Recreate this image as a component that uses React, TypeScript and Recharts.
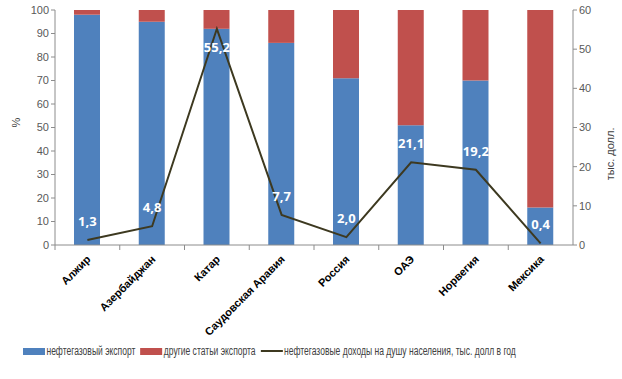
import React from 'react'
import {
  ComposedChart,
  Bar,
  Line,
  XAxis,
  YAxis,
  Legend,
  LabelList,
} from 'recharts'

const countries = [
  'Алжир', 'Азербайджан', 'Катар', 'Саудовская Аравия',
  'Россия', 'ОАЭ', 'Норвегия', 'Мексика',
]
const oilGasExport = [98, 95, 92, 86, 71, 51, 70, 16]
const otherExport = [2, 5, 8, 14, 29, 49, 30, 84]
const incomePerCapita = [1.3, 4.8, 55.2, 7.7, 2.0, 21.1, 19.2, 0.4]
const leftTicks = [0, 10, 20, 30, 40, 50, 60, 70, 80, 90, 100]
const rightTicks = [0, 10, 20, 30, 40, 50, 60]

const BLUE = '#4F81BD'
const RED = '#C0504D'
const OLIVE = '#3D3920'
const AXIS = '#8C8C8C'
const FONT = "'Liberation Sans', Arial, sans-serif"

const data = countries.map((name, i) => ({
  name,
  oil: oilGasExport[i],
  other: otherExport[i],
  income: incomePerCapita[i],
}))

const W = 622
const H = 379
const LEFT_W = 55
const RIGHT_W = 49
const band = (W - LEFT_W - RIGHT_W) / countries.length

// category label, plus a small tick at the left edge of the band
const CategoryTick = (props: any) => {
  const { x, y, payload } = props
  const tx = x + 4
  const ty = y + 7
  return (
    <g>
      <line x1={x - band / 2} y1={y - 8} x2={x - band / 2} y2={y - 3} stroke={AXIS} />
      <text
        x={tx}
        y={ty}
        transform={`rotate(-45, ${tx}, ${ty})`}
        textAnchor="end"
        fontSize={11}
        fontWeight="bold"
        fill="#000"
        fontFamily={FONT}
      >
        {payload.value}
      </text>
    </g>
  )
}

const IncomeLabel = (props: any) => {
  const { x, y, value } = props
  const dy = y < 40 ? 23 : -14
  return (
    <text
      x={x}
      y={y + dy}
      textAnchor="middle"
      fill="#fff"
      fontSize={13}
      fontWeight="bold"
      fontFamily="'Open Sans', 'Liberation Sans', sans-serif"
    >
      {Number(value).toFixed(1).replace('.', ',')}
    </text>
  )
}

const legendItems = [
  { label: 'нефтегазовый экспорт', color: BLUE, kind: 'rect' },
  { label: 'другие статьи экспорта', color: RED, kind: 'rect' },
  { label: 'нефтегазовые доходы на душу населения, тыс. долл в год', color: OLIVE, kind: 'line' },
]

// Excel-ish narrow legend: squeeze a regular font horizontally
const LegendContent = () => (
  <div style={{ position: 'relative', width: W, height: 20 }}>
    <div
      style={{
        position: 'absolute',
        left: 23,
        top: 2,
        display: 'flex',
        alignItems: 'center',
        whiteSpace: 'nowrap',
        fontFamily: FONT,
        fontSize: 12,
        color: '#404040',
        transform: 'scaleX(0.71)',
        transformOrigin: 'left center',
      }}
    >
      {legendItems.map((it) => (
        <span key={it.label} style={{ display: 'flex', alignItems: 'center', marginRight: 7, flexShrink: 0 }}>
          <span
            style={{
              display: 'inline-block',
              width: 31,
              height: it.kind === 'rect' ? 7 : 2,
              background: it.color,
              marginRight: 2,
            }}
          />
          {it.label}
        </span>
      ))}
    </div>
  </div>
)

export default function App() {
  return (
    <div style={{ position: 'absolute', left: 0, top: 0, width: W, height: H, background: '#fff' }}>
      <ComposedChart
        width={W}
        height={H}
        data={data}
        margin={{ top: 10, right: 0, bottom: 17, left: 0 }}
      >
        <XAxis
          dataKey="name"
          height={97}
          interval={0}
          stroke={AXIS}
          tickLine={false}
          tick={<CategoryTick />}
        />
        <YAxis
          yAxisId="left"
          width={LEFT_W}
          domain={[0, 100]}
          ticks={leftTicks}
          interval={0}
          stroke={AXIS}
          tickSize={4}
          tick={{ fontSize: 11, fill: '#595959', fontFamily: FONT }}
          label={{ value: '%', angle: -90, position: 'insideLeft', offset: 16, fontSize: 11, fill: '#404040', fontFamily: FONT }}
        />
        <YAxis
          yAxisId="right"
          orientation="right"
          width={RIGHT_W}
          domain={[0, 60]}
          ticks={rightTicks}
          interval={0}
          stroke={AXIS}
          tickSize={4}
          tick={{ fontSize: 11, fill: '#595959', fontFamily: FONT }}
          label={{ value: 'тыс. долл.', angle: -90, position: 'insideRight', offset: 12, fontSize: 11, fill: '#404040', fontFamily: FONT }}
        />
        <Legend
          verticalAlign="bottom"
          height={20}
          wrapperStyle={{ left: 0, width: W }}
          content={<LegendContent />}
        />
        <Bar yAxisId="left" dataKey="oil" stackId="a" fill={BLUE} barSize={26} isAnimationActive={false} />
        <Bar yAxisId="left" dataKey="other" stackId="a" fill={RED} barSize={26} isAnimationActive={false} />
        <Line
          yAxisId="right"
          dataKey="income"
          type="linear"
          stroke={OLIVE}
          strokeWidth={2}
          dot={false}
          isAnimationActive={false}
        >
          <LabelList dataKey="income" content={<IncomeLabel />} />
        </Line>
      </ComposedChart>
    </div>
  )
}
